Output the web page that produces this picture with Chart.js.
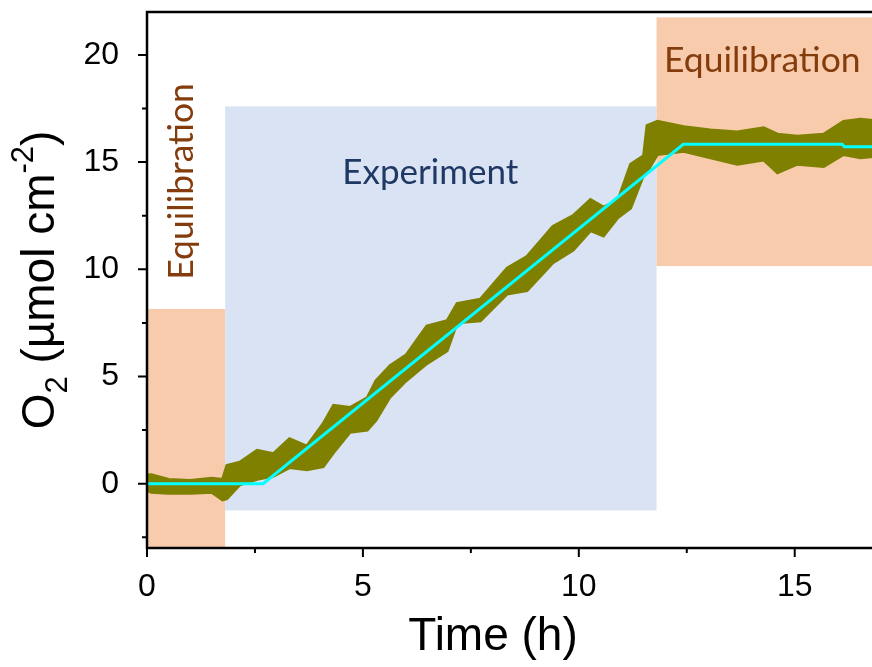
<!DOCTYPE html>
<html>
<head>
<meta charset="utf-8">
<script src="https://cdn.jsdelivr.net/npm/chart.js@4.4.0/dist/chart.umd.min.js"></script>
<style>
  html, body { margin: 0; padding: 0; background: #fff; overflow: hidden; }
  #wrap { position: relative; width: 872px; height: 667px; overflow: hidden; }
</style>
</head>
<body>
<div id="wrap"><canvas id="myChart" width="907" height="667"></canvas></div>
<script>
// measured O2 band (upper / lower edge of the scatter), time in h
var time      = [0, 0.1, 0.5, 1.0, 1.5, 1.75, 1.85, 2.15, 2.55, 2.93, 3.3, 3.7, 4.08, 4.32, 4.7, 5.1, 5.3, 5.63, 6.0, 6.48, 6.95, 7.18, 7.72, 8.34, 8.8, 9.4, 9.87, 10.27, 10.57, 10.9, 11.2, 11.5, 11.58, 11.82, 12.43, 13.05, 13.67, 14.28, 14.6, 15.06, 15.67, 16.13, 16.52, 17.0, 17.6];
var bandUpper = [0.4, 0.42, 0.2, 0.15, 0.25, 0.2, 0.85, 1.0, 1.55, 1.4, 2.1, 1.75, 2.8, 3.65, 3.55, 4.0, 4.8, 5.5, 6.0, 7.35, 7.6, 8.4, 8.6, 10.05, 10.6, 12.0, 12.5, 13.25, 12.9, 13.2, 14.9, 15.3, 16.7, 16.9, 16.65, 16.5, 16.4, 16.6, 16.3, 16.2, 16.3, 16.9, 17.0, 16.9, 16.8];
var bandLower = [-0.3, -0.4, -0.45, -0.45, -0.4, -0.75, -0.7, -0.05, 0.2, 0.35, 0.75, 0.65, 0.8, 1.45, 2.4, 2.5, 2.95, 4.05, 4.8, 5.6, 6.2, 7.5, 7.6, 8.85, 9.0, 10.3, 10.9, 11.8, 11.55, 12.4, 12.85, 14.4, 14.55, 15.35, 15.5, 15.2, 14.9, 15.1, 14.5, 14.9, 14.8, 15.35, 15.2, 15.3, 15.3];

// fitted line
var fitTime = [0, 2.69, 12.42, 16.1, 16.15, 17.6];
var fitO2   = [0, 0, 15.83, 15.83, 15.72, 15.72];

// phases (shaded boxes)
var phaseNames = ['Equilibration', 'Experiment', 'Equilibration'];
var phaseStart = [0, 1.81, 11.8];
var phaseEnd   = [1.81, 11.8, 17.6];
var phaseLow   = [-3, -1.25, 10.15];
var phaseHigh  = [8.15, 17.6, 21.75];

var xTicks = [0, 5, 10, 15];
var xMinor = [2.5, 7.5, 12.5, 17.5];
var yTicks = [0, 5, 10, 15, 20];
var yMinor = [-2.5, 2.5, 7.5, 12.5, 17.5];

var OLIVE = '#808000';
var phaseFill = ['#F8CBAD', '#DAE3F3', '#F8CBAD'];
var phaseText = ['#843C0C', '#1F3864', '#843C0C'];

function pts(xs, ys) {
    return xs.map(function (v, i) { return { x: v, y: ys[i] }; });
}

var extras = {
    id: 'extras',
    beforeDatasetsDraw: function (chart) {
        var ctx = chart.ctx, sx = chart.scales.x, sy = chart.scales.y, a = chart.chartArea;
        ctx.save();
        ctx.beginPath();
        ctx.rect(a.left, a.top, a.right - a.left, a.bottom - a.top);
        ctx.clip();
        for (var i = 0; i < phaseStart.length; i++) {
            var x0 = sx.getPixelForValue(phaseStart[i]), x1 = sx.getPixelForValue(phaseEnd[i]);
            var y0 = sy.getPixelForValue(phaseHigh[i]), y1 = sy.getPixelForValue(phaseLow[i]);
            ctx.fillStyle = phaseFill[i];
            ctx.fillRect(x0, y0, x1 - x0, y1 - y0);
        }
        // phase labels
        ctx.textAlign = 'center';
        ctx.textBaseline = 'alphabetic';
        ctx.font = '35.5px Lato';
        ctx.fillStyle = phaseText[0];
        ctx.save();
        ctx.translate(sx.getPixelForValue(1.07), sy.getPixelForValue(14.1));
        ctx.rotate(-Math.PI / 2);
        ctx.fillText(phaseNames[0], 0, 0);
        ctx.restore();
        ctx.font = '35px Lato';
        ctx.fillStyle = phaseText[1];
        ctx.fillText(phaseNames[1], sx.getPixelForValue(6.56), sy.getPixelForValue(14.0));
        ctx.font = '35.5px Lato';
        ctx.fillStyle = phaseText[2];
        ctx.fillText(phaseNames[2], sx.getPixelForValue(14.25), sy.getPixelForValue(19.2));
        ctx.restore();
    },
    afterDraw: function (chart) {
        var ctx = chart.ctx, sx = chart.scales.x, sy = chart.scales.y, a = chart.chartArea;
        ctx.save();
        ctx.strokeStyle = '#000';
        ctx.lineWidth = 2.5;
        ctx.strokeRect(a.left, a.top, a.right - a.left, a.bottom - a.top);
        ctx.lineWidth = 2;
        ctx.beginPath();
        xTicks.concat(xMinor).forEach(function (v, i) {
            var p = sx.getPixelForValue(v), len = i < xTicks.length ? 9 : 5;
            ctx.moveTo(p, a.bottom); ctx.lineTo(p, a.bottom + len);
        });
        yTicks.concat(yMinor).forEach(function (v, i) {
            var p = sy.getPixelForValue(v), len = i < yTicks.length ? 9 : 5;
            ctx.moveTo(a.left, p); ctx.lineTo(a.left - len, p);
        });
        ctx.stroke();

        // axis titles
        ctx.fillStyle = '#000';
        ctx.textBaseline = 'alphabetic';
        ctx.textAlign = 'center';
        ctx.font = '46px "Liberation Sans"';
        ctx.fillText('Time (h)', 493, 650);

        var parts = [
            { t: 'O', s: 46, dy: 0 },
            { t: '2', s: 31, dy: 13 },
            { t: ' (\u00B5mol cm', s: 46, dy: 0 },
            { t: '-2', s: 31, dy: -21 },
            { t: ')', s: 46, dy: 0 }
        ];
        var total = 0;
        parts.forEach(function (p) {
            ctx.font = p.s + 'px "Liberation Sans"';
            p.w = ctx.measureText(p.t).width;
            total += p.w;
        });
        ctx.translate(54, (a.top + a.bottom) / 2);
        ctx.rotate(-Math.PI / 2);
        ctx.textAlign = 'left';
        var cx = -total / 2;
        parts.forEach(function (p) {
            ctx.font = p.s + 'px "Liberation Sans"';
            ctx.fillText(p.t, cx, p.dy);
            cx += p.w;
        });
        ctx.restore();
    }
};

const ctx = document.getElementById('myChart');
const myChart = new Chart(ctx, {
    type: 'line',
    data: {
        datasets: [{
            label: 'fit',
            data: pts(fitTime, fitO2),
            borderColor: '#00FFFF',
            borderWidth: 3,
            pointRadius: 0,
            fill: false,
            order: 0
        }, {
            label: 'upper',
            data: pts(time, bandUpper),
            borderColor: OLIVE,
            borderWidth: 3,
            pointRadius: 0,
            fill: false,
            order: 1
        }, {
            label: 'lower',
            data: pts(time, bandLower),
            borderColor: OLIVE,
            backgroundColor: OLIVE,
            borderWidth: 3,
            pointRadius: 0,
            fill: '-1',
            order: 2
        }]
    },
    options: {
        responsive: false,
        animation: false,
        devicePixelRatio: 1,
        layout: { padding: { top: 12, left: 0, right: 0, bottom: 0 } },
        plugins: { legend: { display: false }, tooltip: { enabled: false } },
        scales: {
            x: {
                type: 'linear',
                min: 0,
                max: 17.6,
                afterBuildTicks: function (s) { s.ticks = xTicks.map(function (v) { return { value: v }; }); },
                afterFit: function (s) { s.height = 119; s.paddingLeft = 0; s.paddingRight = 0; },
                grid: { display: false },
                border: { display: false },
                ticks: { color: '#000', padding: 12, maxRotation: 0, autoSkip: false,
                         font: { family: 'Liberation Sans', size: 32 } }
            },
            y: {
                type: 'linear',
                min: -3,
                max: 22,
                afterBuildTicks: function (s) { s.ticks = yTicks.map(function (v) { return { value: v }; }); },
                afterFit: function (s) { s.width = 147; s.paddingTop = 0; s.paddingBottom = 0; },
                grid: { display: false },
                border: { display: false },
                ticks: { color: '#000', padding: 20, autoSkip: false,
                         font: { family: 'Liberation Sans', size: 32 } }
            }
        }
    },
    plugins: [extras]
});
</script>
</body>
</html>
